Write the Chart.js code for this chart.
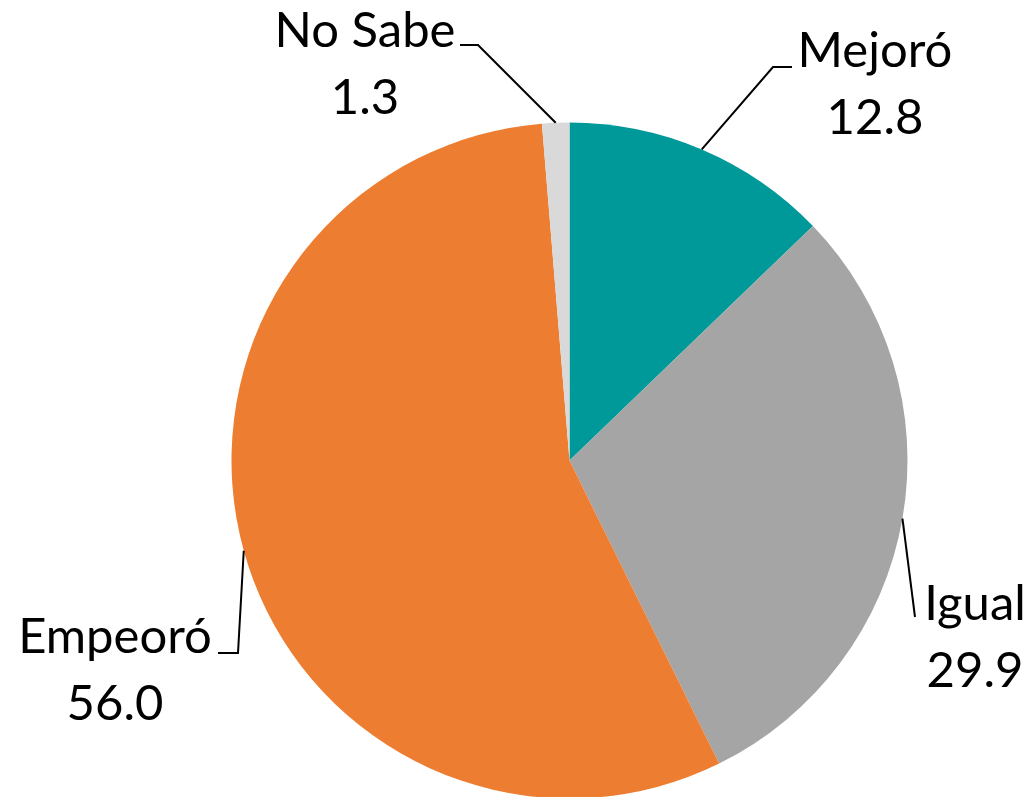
<!DOCTYPE html>
<html>
<head>
<meta charset="utf-8">
<script src="https://cdn.jsdelivr.net/npm/chart.js@4"></script>
<style>
  html, body { margin: 0; padding: 0; background: #ffffff; }
  #wrap { width: 1036px; height: 797px; }
</style>
</head>
<body>
<div id="wrap"><canvas id="pieChart" width="1036" height="797"></canvas></div>
<script>
const categories = ["Mejoró", "Igual", "Empeoró", "No Sabe"];
const values = [12.8, 29.9, 56.0, 1.3];
const sliceColors = ["#009999", "#A5A5A5", "#ED7D31", "#D9D9D9"];

// where each label sits (centre x, first baseline) and the bend of its leader line
const labelLayout = [
  { x: 875, y: 67, bend: [773, 67], end: [792, 67] },
  { x: 975, y: 620, bend: null, end: [915, 617] },
  { x: 115, y: 653, bend: [238, 653], end: [218, 653] },
  { x: 365, y: 47, bend: [478, 45], end: [460, 45] }
];

const labelFont = "49px Lato";
const lineGap = 67;

const leaderLabels = {
  id: "leaderLabels",
  afterDatasetsDraw(chart) {
    const ctx = chart.ctx;
    const arcs = chart.getDatasetMeta(0).data;
    ctx.save();
    arcs.forEach((arc, i) => {
      const mid = (arc.startAngle + arc.endAngle) / 2;
      const ax = arc.x + Math.cos(mid) * arc.outerRadius;
      const ay = arc.y + Math.sin(mid) * arc.outerRadius;
      const layout = labelLayout[i];

      ctx.strokeStyle = "#000000";
      ctx.lineWidth = 2;
      ctx.beginPath();
      ctx.moveTo(ax, ay);
      if (layout.bend) {
        ctx.lineTo(layout.bend[0], layout.bend[1]);
      }
      ctx.lineTo(layout.end[0], layout.end[1]);
      ctx.stroke();

      ctx.fillStyle = "#000000";
      ctx.font = labelFont;
      ctx.textAlign = "center";
      ctx.textBaseline = "alphabetic";
      ctx.fillText(categories[i], layout.x, layout.y);
      ctx.fillText(values[i].toFixed(1), layout.x, layout.y + lineGap);
    });
    ctx.restore();
  }
};

new Chart(document.getElementById("pieChart"), {
  type: "pie",
  data: {
    labels: categories,
    datasets: [
      {
        data: values,
        backgroundColor: sliceColors,
        borderWidth: 0,
        clip: false
      }
    ]
  },
  options: {
    responsive: false,
    animation: false,
    radius: 338,
    layout: {
      padding: { left: 103, right: 0, top: 124, bottom: 0 }
    },
    plugins: {
      legend: { display: false },
      tooltip: { enabled: false }
    }
  },
  plugins: [leaderLabels]
});
</script>
</body>
</html>
